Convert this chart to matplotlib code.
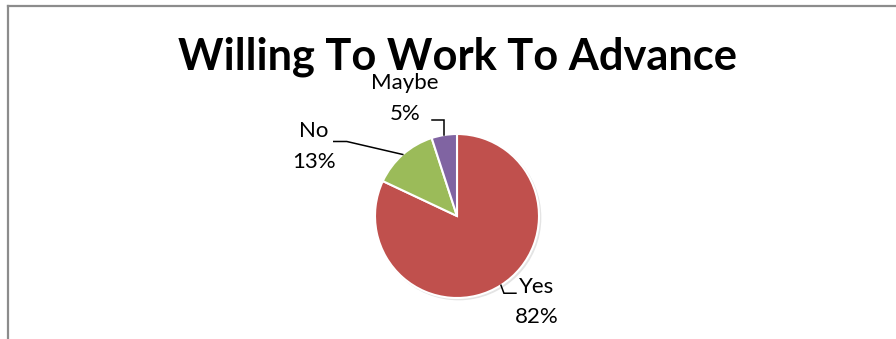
import matplotlib.pyplot as plt
import numpy as np

labels = ["Yes", "No", "Maybe"]
values = [82, 13, 5]
colors = ["#C0504D", "#9BBB59", "#8064A2"]

W, H = 896, 339
fig = plt.figure(figsize=(W / 100, H / 100), dpi=100)
fig.patch.set_facecolor("white")

# border (top and left only visible in the crop)
fig.add_artist(plt.Line2D([8 / W, 1], [1 - 5.5 / H, 1 - 5.5 / H], color="#8C8C8C", lw=1.6))
fig.add_artist(plt.Line2D([8 / W, 8 / W], [0, 1 - 5.5 / H], color="#8C8C8C", lw=1.6))

fig.text(457 / W, 1 - 57 / H, "Willing To Work To Advance", ha="center", va="center",
         fontsize=31.2, fontweight="bold", family="Lato")

# pie axes: center (457, 216) px, radius 82 px
cx, cy, r = 457, 216, 82
ax = fig.add_axes([(cx - r) / W, (H - cy - r) / H, 2 * r / W, 2 * r / H])
ax.set_xlim(-1, 1)
ax.set_ylim(-1, 1)
ax.set_aspect("equal")
ax.axis("off")

# faint shadow
shadow = plt.Circle((0.02, -0.02), 1.0, color="#E4E4E4", zorder=0, clip_on=False)
ax.add_patch(shadow)

wedges, _ = ax.pie(values, colors=colors, startangle=90, counterclock=False, radius=1,
                   wedgeprops=dict(edgecolor="white", linewidth=1.5), frame=False)
ax.set_xlim(-1, 1)
ax.set_ylim(-1, 1)

# leader geometry in px offsets from the wedge edge point, label position in px offsets
leader = {
    "Yes": [(0, 0), (3, 8), (15, 8)],
    "No": [(0, 0), (-56, -13), (-69, -13)],
    "Maybe": [(0, 0), (0, -15), (-12, -15)],
}
text_off = {"Yes": (36, 17), "No": (-89, -8), "Maybe": (-39, -36.5)}

total = sum(values)
start = 0.0
for lab, v in zip(labels, values):
    mid = (start + v / 2) / total * 2 * np.pi
    start += v
    ex, ey = np.sin(mid), np.cos(mid)
    pts = leader[lab]
    xs = [ex + dx / r for dx, dy in pts]
    ys = [ey - dy / r for dx, dy in pts]
    ax.plot(xs, ys, color="black", lw=1.1, clip_on=False, solid_joinstyle="miter")
    tx, ty = text_off[lab]
    ax.text(ex + tx / r, ey - ty / r, f"{lab}\n{v}%", ha="center", va="center",
            fontsize=16, family="Lato", linespacing=1.65, clip_on=False)

fig.savefig("out.png", dpi=100, facecolor="white")
